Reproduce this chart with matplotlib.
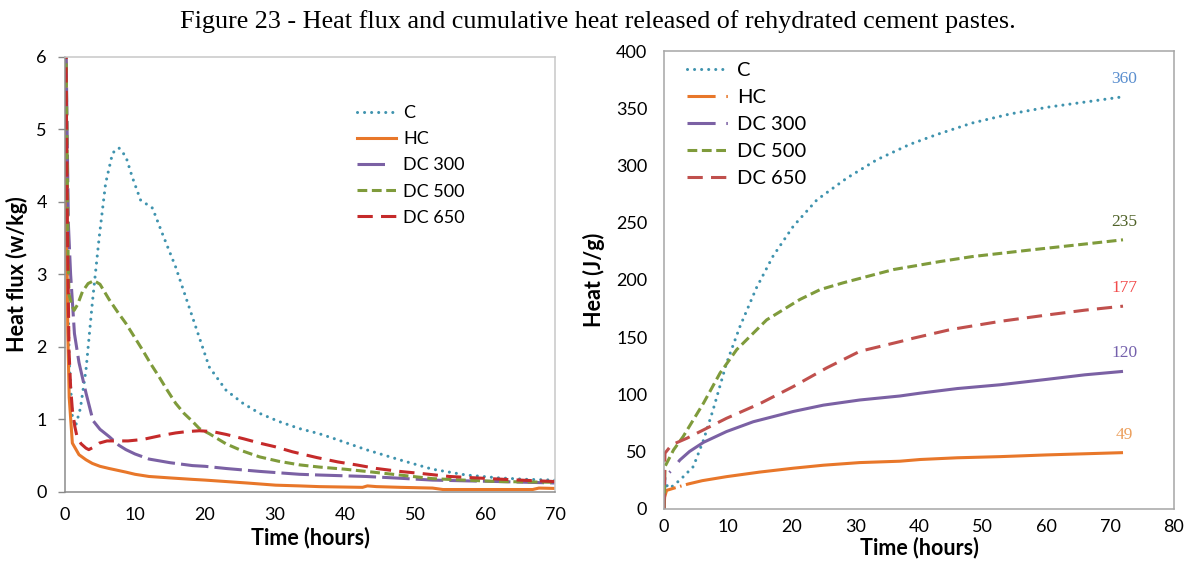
import matplotlib
matplotlib.use("Agg")
import matplotlib.pyplot as plt
from matplotlib.lines import Line2D

plt.rcParams['font.family'] = ['Lato', 'DejaVu Sans']

# ---------------- heat flux (W/kg) ----------------
t_C_flux = [0.1, 0.3, 0.6, 1.05, 1.5, 2.2, 3.0, 3.9, 4.9, 5.8, 6.8, 7.7, 8.7, 9.6, 10.8,
            12.5, 13.9, 15.8, 18.2, 20.6, 23.0, 25.4, 27.8, 30.5, 33.5, 36.3, 38.2, 43.0,
            47.8, 52.5, 57.3, 62.0, 66.0, 70.0]
C_flux = [6.5, 3.5, 1.8, 1.03, 0.9, 1.15, 1.68, 2.6, 3.52, 4.25, 4.67, 4.74, 4.62, 4.34, 4.02,
          3.91, 3.56, 3.1, 2.41, 1.72, 1.4, 1.22, 1.08, 0.97, 0.87, 0.8, 0.74, 0.58,
          0.44, 0.31, 0.23, 0.19, 0.17, 0.16]

t_HC_flux = [0.1, 0.25, 0.4, 0.6, 1.05, 2.0, 3.0, 3.9, 5.0, 6.3, 8.7, 10.0, 12.0, 15.0, 18.2,
             20.0, 23.0, 26.0, 30.1, 33.5, 36.3, 42.5, 43.2, 44.5, 48.0, 52.5, 54.0, 60.0,
             66.8, 67.7, 70.0]
HC_flux = [6.5, 3.5, 2.2, 1.3, 0.67, 0.51, 0.44, 0.39, 0.35, 0.32, 0.27, 0.24, 0.21, 0.19, 0.17,
           0.16, 0.14, 0.12, 0.09, 0.08, 0.07, 0.06, 0.08, 0.07, 0.06, 0.05, 0.03, 0.03,
           0.03, 0.05, 0.045]

t_DC300_flux = [0.1, 0.3, 0.48, 0.8, 1.35, 2.0, 3.0, 4.0, 5.0, 6.3, 7.7, 8.7, 10.0, 12.0, 15.0,
                18.2, 20.0, 23.0, 27.8, 33.5, 36.3, 43.0, 47.0, 52.5, 57.0, 62.0, 70.0]
DC300_flux = [6.5, 5.0, 3.7, 3.0, 2.18, 1.78, 1.36, 0.98, 0.86, 0.76, 0.64, 0.58, 0.52, 0.45, 0.40,
              0.36, 0.35, 0.32, 0.28, 0.24, 0.23, 0.21, 0.19, 0.16, 0.15, 0.14, 0.12]

t_DC500_flux = [0.1, 0.3, 0.45, 0.57, 0.9, 1.3, 1.8, 2.5, 3.3, 4.15, 5.0, 6.3, 7.5, 8.7, 10.0,
                11.1, 12.2, 13.4, 14.6, 15.8, 17.0, 18.2, 19.2, 20.6, 23.0, 25.4, 27.8, 30.5,
                33.5, 36.3, 40.0, 43.0, 47.8, 52.5, 57.0, 62.0, 70.0]
DC500_flux = [6.5, 4.7, 3.2, 2.72, 2.6, 2.5, 2.58, 2.76, 2.87, 2.91, 2.86, 2.65, 2.48, 2.32, 2.12,
              1.95, 1.77, 1.59, 1.4, 1.22, 1.08, 0.97, 0.87, 0.8, 0.66, 0.56, 0.48, 0.42,
              0.37, 0.34, 0.31, 0.28, 0.23, 0.18, 0.16, 0.14, 0.13]

t_DC650_flux = [0.1, 0.33, 0.57, 0.8, 1.05, 1.4, 1.76, 2.3, 3.0, 3.4, 4.0, 4.9, 6.0, 6.8, 9.0,
                11.1, 13.5, 15.8, 17.5, 19.2, 21.0, 23.0, 25.5, 27.8, 30.0, 32.5, 36.0, 39.0,
                41.6, 44.5, 47.8, 51.0, 54.9, 60.7, 65.0, 70.0]
DC650_flux = [6.5, 3.8, 1.95, 1.45, 1.13, 0.9, 0.74, 0.66, 0.6, 0.58, 0.61, 0.67, 0.7, 0.7, 0.7,
              0.72, 0.77, 0.81, 0.83, 0.84, 0.83, 0.79, 0.73, 0.67, 0.62, 0.55, 0.47, 0.41,
              0.37, 0.32, 0.28, 0.25, 0.21, 0.18, 0.16, 0.14]

# ---------------- cumulative heat (J/g) ----------------
t_C_heat = [0, 0.15, 0.9, 2.5, 4.6, 6.2, 7.7, 9.8, 11.9, 14.5, 17.1, 20.3, 24.0, 28.7, 33.4,
            38.6, 42.8, 48.3, 54.3, 60.3, 66.2, 72.0]
C_heat = [0, 22, 17.8, 25, 36.8, 60, 86.4, 127, 159, 193, 220.7, 247, 270, 289, 305,
          318.5, 327, 337, 345, 351, 355.5, 360]

t_HC_heat = [0, 0.1, 0.4, 2.0, 3.8, 6.0, 9.8, 15.0, 20.3, 25.0, 30.7, 37.0, 40.2, 46.0, 52.7,
             60.0, 66.0, 72.0]
HC_heat = [0, 10, 16, 18.7, 21.6, 24.5, 28, 32, 35.4, 38, 40.3, 41.5, 43.0, 44.5, 45.5,
           47, 48, 49]

t_DC300_heat = [0, 0.15, 1.1, 2.5, 4.0, 6.2, 9.8, 14.0, 20.3, 25.0, 30.7, 37.0, 40.2, 46.0,
                52.7, 60.0, 66.0, 72.0]
DC300_heat = [0, 28, 33, 42.6, 50, 58, 67.4, 76, 85, 90.5, 95, 98.5, 101, 105,
              108.3, 113, 117, 120]

t_DC500_heat = [0, 0.15, 1.5, 3.0, 6.2, 8.8, 11.4, 16.1, 21.3, 24.5, 28.1, 36.0, 43.3, 48.3,
                57.3, 66.2, 72.0]
DC500_heat = [0, 36.8, 51.4, 63, 92.3, 118.6, 139, 165, 182.8, 191.5, 197.4, 209, 216, 220.3,
              226, 231.4, 235]

t_DC650_heat = [0, 0.15, 1.2, 3.6, 9.8, 15.1, 20.3, 25.5, 30.7, 37.0, 39.1, 44.9, 52.7, 60.5,
                66.0, 72.0]
DC650_heat = [0, 48.5, 55.8, 61.6, 79, 92, 106.8, 123, 137.5, 146, 149, 156.5, 163.7, 169.6,
              173.5, 177]

series_names = ["C", "HC", "DC 300", "DC 500", "DC 650"]
flux_x_ticks = [0, 10, 20, 30, 40, 50, 60, 70]
flux_y_ticks = [0, 1, 2, 3, 4, 5, 6]
heat_x_ticks = [0, 10, 20, 30, 40, 50, 60, 70, 80]
heat_y_ticks = [0, 50, 100, 150, 200, 250, 300, 350, 400]

# ---------------- styles ----------------
LW = 2.2
col_C = "#3F93AE"
col_HC = "#E8772A"
col_300 = "#7B61A4"
col_500 = "#7F9B3B"
col_650_left = "#C52A2A"
col_650_right = "#C0504D"
label_colors = ["#5B8FCF", "#EC9F5C", "#7460AC", "#4F6228", "#F24B4B"]

dotted = (0, (0.01, 2.3))
dash_300_left = (0, (9, 2))
dash_500 = (0, (3.2, 1.5))
dash_650 = (0, (5, 2.7))
dashdot_HC = (0, (9.2, 1.5, 0.5, 1.5, 1000, 1))
dashdot_300 = (0, (10.5, 2, 0.5, 4, 1000, 1))
legend_dashdot = (0, (9.2, 3.5, 0.5, 3.5))
legend_300_left = (0, (9, 5))

TICK_FS = 13
AXLABEL_FS = 15.5

fig = plt.figure(figsize=(11.88, 5.61), dpi=100)
fig.text(0.503, 0.962, "Figure 23 - Heat flux and cumulative heat released of rehydrated cement pastes.",
         ha="center", va="center", fontsize=18.8, family="Liberation Serif")

# ================= left panel =================
ax1 = fig.add_axes([65 / 1188, 1 - 491.7 / 561, 490 / 1188, (491.7 - 56.5) / 561])
ax1.plot(t_C_flux, C_flux, color=col_C, lw=LW, linestyle=dotted, dash_capstyle="round")
ax1.plot(t_HC_flux, HC_flux, color=col_HC, lw=LW)
ax1.plot(t_DC300_flux, DC300_flux, color=col_300, lw=LW, linestyle=dash_300_left)
ax1.plot(t_DC500_flux, DC500_flux, color=col_500, lw=LW, linestyle=dash_500)
ax1.plot(t_DC650_flux, DC650_flux, color=col_650_left, lw=LW, linestyle=dash_650)

ax1.set_xlim(0, 70)
ax1.set_ylim(0, 6)
ax1.set_xticks(flux_x_ticks)
ax1.set_yticks(flux_y_ticks)
ax1.tick_params(axis="y", length=5, width=1, color="#888888", pad=8, labelsize=TICK_FS)
ax1.tick_params(axis="x", length=0, pad=11, labelsize=TICK_FS)
for side in ["left", "bottom"]:
    ax1.spines[side].set_color("#8C8C8C")
    ax1.spines[side].set_linewidth(1.1)
for side in ["top", "right"]:
    ax1.spines[side].set_color("#C8C8C8")
    ax1.spines[side].set_linewidth(1.1)
ax1.set_xlabel("Time (hours)", fontsize=AXLABEL_FS, fontweight="bold", labelpad=3)
ax1.set_ylabel("Heat flux (w/kg)", fontsize=AXLABEL_FS, fontweight="bold", labelpad=6)

h_left = [
    Line2D([], [], color=col_C, lw=LW, linestyle=dotted, dash_capstyle="round"),
    Line2D([], [], color=col_HC, lw=LW),
    Line2D([], [], color=col_300, lw=LW, linestyle=legend_300_left),
    Line2D([], [], color=col_500, lw=LW, linestyle=dash_500),
    Line2D([], [], color=col_650_left, lw=LW, linestyle=dash_650),
]
ax1.legend(h_left, series_names, loc="upper left", bbox_to_anchor=(0.595, 0.888),
           frameon=False, fontsize=13, handlelength=2.2, handletextpad=0.4,
           labelspacing=0.56, borderaxespad=0, borderpad=0)

# ================= right panel =================
ax2 = fig.add_axes([664 / 1188, 1 - 508.7 / 561, 510 / 1188, (508.7 - 51) / 561])
ax2.plot(t_C_heat, C_heat, color=col_C, lw=LW, linestyle=dotted, dash_capstyle="round")
ax2.plot(t_HC_heat, HC_heat, color=col_HC, lw=LW, linestyle=dashdot_HC)
ax2.plot(t_DC300_heat, DC300_heat, color=col_300, lw=LW, linestyle=dashdot_300)
ax2.plot(t_DC500_heat, DC500_heat, color=col_500, lw=LW, linestyle=dash_500)
ax2.plot(t_DC650_heat, DC650_heat, color=col_650_right, lw=LW, linestyle=dash_650)

# end-of-test totals written above each curve
ends = [(t_C_heat, C_heat), (t_HC_heat, HC_heat), (t_DC300_heat, DC300_heat),
        (t_DC500_heat, DC500_heat), (t_DC650_heat, DC650_heat)]
for (tt, hh), c in zip(ends, label_colors):
    ax2.annotate(f"{hh[-1]:g}", xy=(tt[-1], hh[-1]), xytext=(1, 13), textcoords="offset points",
                 ha="center", va="center", color=c, fontsize=12.5, family="Liberation Serif")

ax2.set_xlim(0, 80)
ax2.set_ylim(0, 400)
ax2.set_xticks(heat_x_ticks)
ax2.set_yticks(heat_y_ticks)
ax2.tick_params(axis="both", length=0, labelsize=TICK_FS)
ax2.tick_params(axis="y", pad=12)
ax2.tick_params(axis="x", pad=7.5)
for side in ax2.spines:
    ax2.spines[side].set_color("#A6A6A6")
    ax2.spines[side].set_linewidth(1.1)
ax2.set_xlabel("Time (hours)", fontsize=AXLABEL_FS, fontweight="bold", labelpad=1)
ax2.set_ylabel("Heat (J/g)", fontsize=AXLABEL_FS, fontweight="bold", labelpad=8)

h_right = [
    Line2D([], [], color=col_C, lw=LW, linestyle=dotted, dash_capstyle="round"),
    Line2D([], [], color=col_HC, lw=LW, linestyle=legend_dashdot),
    Line2D([], [], color=col_300, lw=LW, linestyle=legend_dashdot),
    Line2D([], [], color=col_500, lw=LW, linestyle=dash_500),
    Line2D([], [], color=col_650_right, lw=LW, linestyle=dash_650),
]
ax2.legend(h_right, series_names, loc="upper left", bbox_to_anchor=(0.045, 0.977),
           frameon=False, fontsize=14.5, handlelength=2.1, handletextpad=0.4,
           labelspacing=0.5, borderaxespad=0, borderpad=0)

fig.savefig("out.png", dpi=100)
